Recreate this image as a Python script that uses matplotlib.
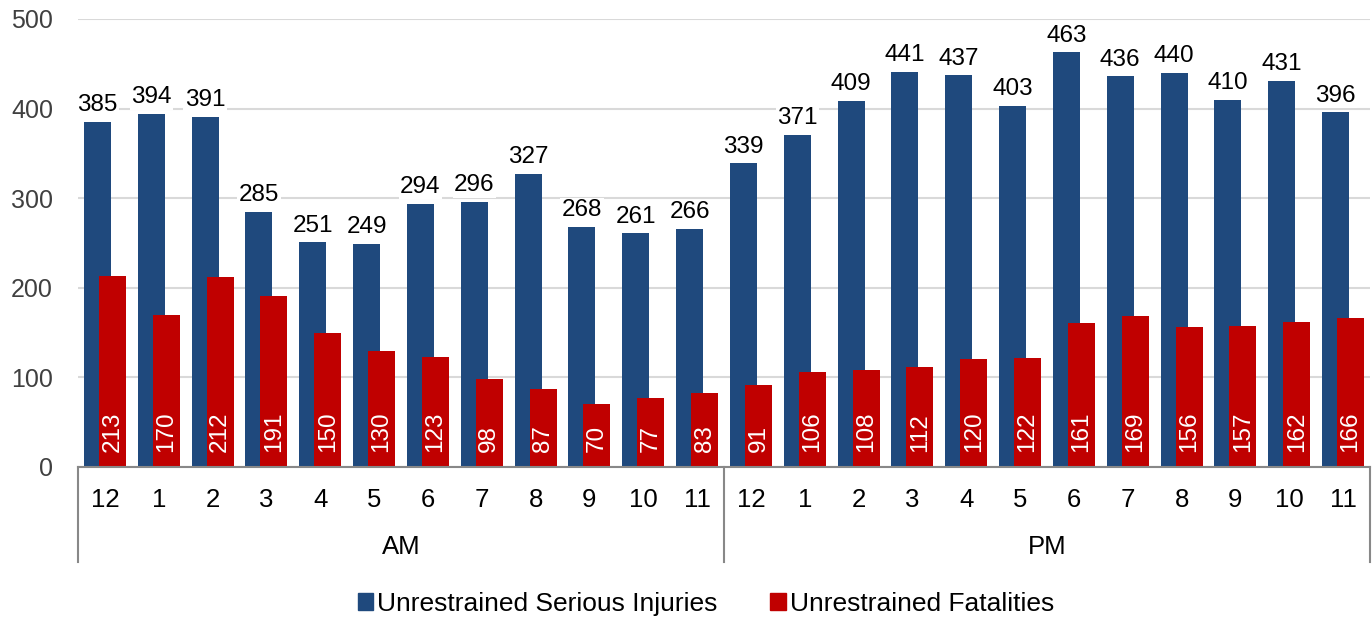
import matplotlib.pyplot as plt
import numpy as np
from matplotlib.patches import Patch

plt.rcParams['font.family'] = ['Liberation Sans', 'DejaVu Sans']

hours = ['12', '1', '2', '3', '4', '5', '6', '7', '8', '9', '10', '11'] * 2
periods = ['AM', 'PM']
injuries = [385, 394, 391, 285, 251, 249, 294, 296, 327, 268, 261, 266,
            339, 371, 409, 441, 437, 403, 463, 436, 440, 410, 431, 396]
fatalities = [213, 170, 212, 191, 150, 130, 123, 98, 87, 70, 77, 83,
              91, 106, 108, 112, 120, 122, 161, 169, 156, 157, 162, 166]

blue = '#1F497D'
red = '#C00000'

fig = plt.figure(figsize=(13.72, 6.21), dpi=100)
ax = fig.add_axes([78/1372, 1 - 467/621, (1370-78)/1372, 448/621])

x = np.arange(len(hours))
w = 0.5
off = 0.14
ax.bar(x - off, injuries, width=w, color=blue, zorder=2)
ax.bar(x + off, fatalities, width=w, color=red, zorder=3)

for xi, v in zip(x, injuries):
    ax.annotate(str(v), (xi - off, v), xytext=(0, 4), textcoords='offset points',
                ha='center', va='bottom', fontsize=17.5, color='black', zorder=4,
                bbox=dict(fc='white', ec='none', pad=1))
for xi, v in zip(x, fatalities):
    ax.annotate(str(v), (xi + off, 0), xytext=(0, 11), textcoords='offset points',
                ha='center', va='bottom', rotation=90, fontsize=17.5, color='white', zorder=5)

ax.set_xlim(-0.5, len(hours) - 0.5)
ax.set_ylim(0, 500)
ax.set_yticks(range(0, 501, 100))
ax.yaxis.grid(True, color='#d9d9d9', linewidth=1.5, zorder=0)
ax.set_axisbelow(True)
for s in ['left', 'right', 'top']:
    ax.spines[s].set_visible(False)
ax.spines['bottom'].set_color('#888888')
ax.spines['bottom'].set_linewidth(1.5)
ax.spines['bottom'].set_zorder(6)

ax.set_xticks(x)
ax.set_xticklabels(hours, fontsize=18.5, color='black')
ax.tick_params(axis='x', length=0, pad=15)
ax.tick_params(axis='y', length=0, pad=18, labelsize=18, labelcolor='#404040')

# group axis lines and AM / PM labels
depth = (562 - 467) / 448
for xv in [-0.5, 11.5, 23.5]:
    ax.plot([xv, xv], [0, -depth], color='#888888', linewidth=1.5,
            transform=ax.get_xaxis_transform(), clip_on=False)
for i, p in enumerate(periods):
    ax.text(5.5 + 12 * i, -(547 - 467) / 448, p, ha='center', va='center',
            fontsize=18.5, transform=ax.get_xaxis_transform())

handles = [Patch(color=blue, label='Unrestrained Serious Injuries'),
           Patch(color=red, label='Unrestrained Fatalities')]
fig.legend(handles=handles, loc='center', bbox_to_anchor=(706/1372, 1 - 604/621),
           ncol=2, frameon=False, fontsize=19, handlelength=0.6, handleheight=0.6,
           handletextpad=0.15, columnspacing=2.0)

fig.savefig('out.png', dpi=100)
